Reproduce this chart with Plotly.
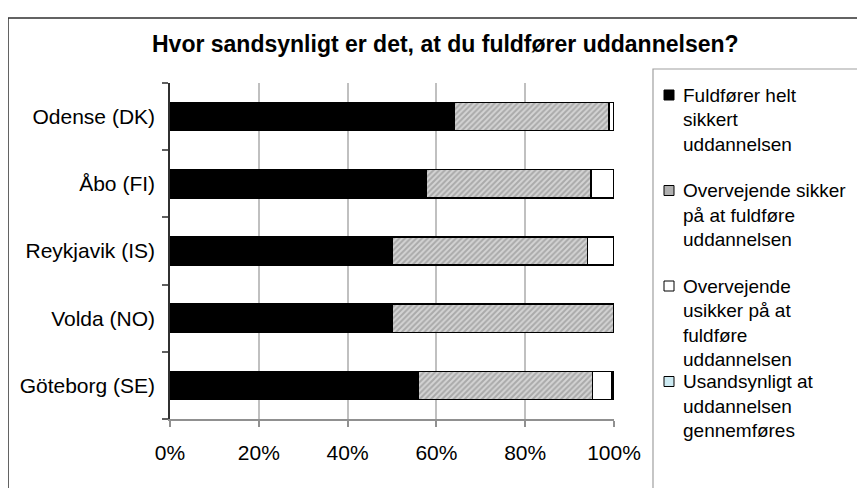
import plotly.graph_objects as go

categories = ["Odense (DK)", "Åbo (FI)", "Reykjavik (IS)", "Volda (NO)", "Göteborg (SE)"]
series_names = [
    "Fuldfører helt sikkert uddannelsen",
    "Overvejende sikker på at fuldføre uddannelsen",
    "Overvejende usikker på at fuldføre uddannelsen",
    "Usandsynligt at uddannelsen gennemføres",
]
legend_lines = [
    ["Fuldfører helt", "sikkert", "uddannelsen"],
    ["Overvejende sikker", "på at fuldføre", "uddannelsen"],
    ["Overvejende", "usikker på at", "fuldføre", "uddannelsen"],
    ["Usandsynligt at", "uddannelsen", "gennemføres"],
]
helt_sikkert = [64.1, 57.7, 50.0, 50.0, 56.0]
overvejende_sikker = [34.8, 37.1, 44.0, 50.0, 39.2]
overvejende_usikker = [1.1, 5.2, 6.0, 0.0, 4.3]
usandsynligt = [0.0, 0.0, 0.0, 0.0, 0.5]
x_ticks = [0, 20, 40, 60, 80, 100]
x_tick_labels = ["0%", "20%", "40%", "60%", "80%", "100%"]
title_text = "Hvor sandsynligt er det, at du fuldfører uddannelsen?"

FONT = "Liberation Sans, Arial, sans-serif"
series_colors = ["black", "#b0b0b0", "white", "#cdeaf2"]

fig = go.Figure()
line = dict(color="black", width=1.5)
fig.add_trace(go.Bar(y=categories, x=helt_sikkert, orientation="h", name=series_names[0],
                     marker=dict(color=series_colors[0], line=line)))
fig.add_trace(go.Bar(y=categories, x=overvejende_sikker, orientation="h", name=series_names[1],
                     marker=dict(color="#d0d0d0", line=line,
                                 pattern=dict(shape="/", fgcolor="#808080", bgcolor="#d4d4d4",
                                              size=4, solidity=0.5))))
fig.add_trace(go.Bar(y=categories, x=overvejende_usikker, orientation="h", name=series_names[2],
                     marker=dict(color=series_colors[2], line=line)))
fig.add_trace(go.Bar(y=categories, x=usandsynligt, orientation="h", name=series_names[3],
                     marker=dict(color=series_colors[3], line=line)))

# page body has an 8px default margin: work in screen pixels, figure offset by 8
OFF = 8
FW, FH = 865 - OFF, 488 - OFF
L, R = 170, 614
T, B = 83, 419
W, H = R - L, B - T

def px(x):
    return (x - L) / W

def py(y):
    return (B - y) / H

annotations = [dict(text="<b>" + title_text + "</b>", xref="paper", yref="paper",
                    x=px(445), y=py(44), xanchor="center", yanchor="middle",
                    showarrow=False, font=dict(size=23, family=FONT))]
shapes = [
    dict(type="rect", xref="paper", yref="paper", x0=px(8), x1=px(875), y0=py(500), y1=py(18),
         line=dict(color="#303030", width=1.5), fillcolor="rgba(0,0,0,0)", layer="below"),
    dict(type="rect", xref="paper", yref="paper", x0=px(653), x1=px(862), y0=py(500), y1=py(69),
         line=dict(color="#a0a0a0", width=1.2), fillcolor="rgba(0,0,0,0)", layer="below"),
]

# manual legend (Excel-like, left-aligned swatch + wrapped text)
item_top = 95.0
item_step = 95.5
line_step = 24.5
for i, lines in enumerate(legend_lines):
    y0 = item_top + i * item_step
    shapes.append(dict(type="rect", xref="paper", yref="paper",
                       x0=px(664), x1=px(674), y0=py(y0 + 5), y1=py(y0 - 5),
                       line=dict(color="black", width=1), fillcolor=series_colors[i]))
    for j, t in enumerate(lines):
        annotations.append(dict(text=t, xref="paper", yref="paper",
                                x=px(681), y=py(y0 + j * line_step), xanchor="left", yanchor="middle",
                                showarrow=False, font=dict(size=19, family=FONT)))

fig.update_layout(
    width=FW, height=FH,
    margin=dict(l=L - OFF, r=FW - (R - OFF), t=T - OFF, b=FH - (B - OFF)),
    barmode="stack", bargap=0.58,
    paper_bgcolor="white", plot_bgcolor="white",
    font=dict(family=FONT, color="black", size=19),
    showlegend=False,
    xaxis=dict(range=[0, 100], tickvals=x_ticks, ticktext=x_tick_labels,
               showgrid=True, gridcolor="#c0c0c0", gridwidth=1.5,
               showline=True, linecolor="#909090", linewidth=1.5,
               ticks="outside", ticklen=6, tickcolor="#909090", tickwidth=1.5,
               ticklabelstandoff=8,
               tickfont=dict(size=21), zeroline=False, fixedrange=True),
    yaxis=dict(categoryorder="array", categoryarray=categories[::-1],
               showline=True, linecolor="#303030", linewidth=1.5,
               ticks="outside", ticklen=6, tickcolor="#606060", tickwidth=1.5,
               tickson="boundaries", ticklabelstandoff=9,
               tickfont=dict(size=21), showgrid=False, fixedrange=True),
    annotations=annotations,
    shapes=shapes,
)

fig.write_html("out.html")
